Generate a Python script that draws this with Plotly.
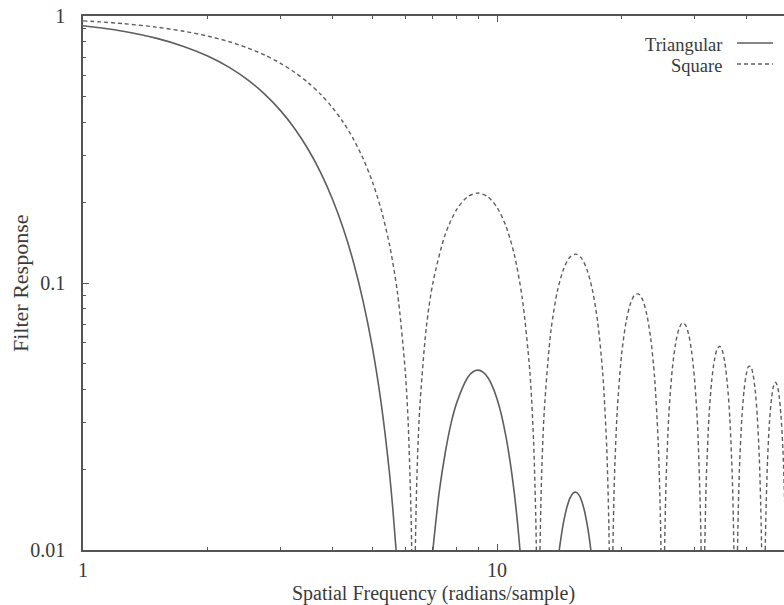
import plotly.graph_objects as go

# ---- data (None separates lobes clipped at the 0.01 floor) ----
tri_freq = [1.0, 1.1, 1.25, 1.5, 1.75, 2.0, 2.25, 2.5, 2.75, 3.0, 3.25, 3.5, 3.75, 4.0, 4.25, 4.5,
            4.75, 5.0, 5.25, 5.5, 5.6, 5.704, None,
            6.998, 7.25, 7.5, 7.75, 8.0, 8.5, 8.75, 9.0, 9.25, 9.5, 9.75, 10.0, 10.25, 10.5, 10.75,
            11.0, 11.2, 11.359, None,
            14.134, 14.25, 14.5, 14.75, 15.0, 15.25, 15.5, 15.75, 16.0, 16.25, 16.5, 16.7, 16.846]
tri_resp = [0.9195, 0.9033, 0.8765, 0.8261, 0.7693, 0.7081, 0.6434, 0.5764, 0.5090, 0.4422, 0.3776,
            0.3162, 0.2590, 0.2067, 0.1602, 0.1196, 0.0852, 0.0573, 0.0354, 0.0193, 0.0143, 0.0100, None,
            0.0100, 0.0165, 0.02323, 0.0300, 0.0358, 0.04435, 0.04653, 0.04718, 0.04638, 0.04427,
            0.04094, 0.03679, 0.03198, 0.02676, 0.02149, 0.01646, 0.01271, 0.0100, None,
            0.0100, 0.01096, 0.01288, 0.01448, 0.01565, 0.01631, 0.01646, 0.01612, 0.0153, 0.01406,
            0.0125, 0.0111, 0.0100]

sq_freq = [1.0, 1.1, 1.25, 1.5, 1.75, 2.0, 2.25, 2.5, 2.75, 3.0, 3.25, 3.5, 3.75, 4.0, 4.25, 4.5,
           4.75, 5.0, 5.25, 5.5, 5.75, 6.0, 6.1, 6.2, 6.221, None,
           6.347, 6.4, 6.5, 6.75, 7.0, 7.5, 8.0, 8.5, 9.0, 9.5, 10.0, 10.5, 11.0, 11.5, 12.0, 12.25,
           12.4, 12.442, None,
           12.693, 12.8, 13.0, 13.5, 14.0, 14.5, 15.0, 15.5, 16.0, 16.5, 17.0, 17.5, 18.0, 18.4,
           18.6, 18.663, None,
           19.04, 19.2, 19.5, 20.0, 20.5, 21.0, 21.5, 22.0, 22.5, 23.0, 23.5, 24.0, 24.5, 24.8,
           24.884, None,
           25.387, 25.6, 26.0, 26.5, 27.0, 27.5, 28.0, 28.5, 29.0, 29.5, 30.0, 30.5, 31.0, 31.104, None,
           31.733, 32.0, 32.5, 33.0, 33.5, 34.0, 34.5, 35.0, 35.5, 36.0, 36.5, 37.0, 37.2, 37.326, None,
           38.08, 38.25, 38.5, 39.0, 39.5, 40.0, 40.5, 41.0, 41.5, 42.0, 42.5, 43.0, 43.4, 43.547, None,
           44.43, 44.6, 45.0, 45.5, 46.0, 46.5, 47.0, 47.5, 48.0, 48.5, 49.0, 49.5, 49.77]
sq_resp = [0.9589, 0.9504, 0.9362, 0.9089, 0.8771, 0.8415, 0.8021, 0.7592, 0.7134, 0.665, 0.6145,
           0.5623, 0.5089, 0.4546, 0.4003, 0.3458, 0.2919, 0.2394, 0.1882, 0.1388, 0.0916, 0.047,
           0.030, 0.0134, 0.0100, None,
           0.0100, 0.01825, 0.03323, 0.0686, 0.1002, 0.1524, 0.1892, 0.2106, 0.2172, 0.2104, 0.1918,
           0.1636, 0.1283, 0.0881, 0.0466, 0.02575, 0.0134, 0.0100, None,
           0.0100, 0.0182, 0.0331, 0.0667, 0.0939, 0.1135, 0.1251, 0.1283, 0.1237, 0.1118, 0.0939,
           0.0714, 0.0458, 0.02426, 0.01339, 0.0100, None,
           0.0100, 0.01816, 0.03277, 0.0544, 0.0717, 0.0838, 0.0902, 0.0909, 0.086, 0.0761, 0.062,
           0.0447, 0.02538, 0.01337, 0.0100, None,
           0.0100, 0.01812, 0.03232, 0.04768, 0.0595, 0.0673, 0.0708, 0.0697, 0.0645, 0.0554, 0.0434,
           0.029, 0.01332, 0.0100, None,
           0.0100, 0.01799, 0.03174, 0.04313, 0.05158, 0.05655, 0.05795, 0.05575, 0.0502, 0.0417,
           0.0309, 0.01852, 0.0133, 0.0100, None,
           0.0100, 0.01422, 0.02025, 0.03105, 0.03968, 0.04565, 0.04867, 0.04863, 0.0456, 0.03984,
           0.03179, 0.02193, 0.01323, 0.0100, None,
           0.0100, 0.01363, 0.02165, 0.03024, 0.03681, 0.04094, 0.04247, 0.04136, 0.03773, 0.03188,
           0.02413, 0.01509, 0.0100]

x_tick_vals = [1, 10]
x_tick_text = ["1", "10"]
x_minor_vals = [2, 3, 4, 5, 6, 7, 8, 9, 20, 30, 40]
y_tick_vals = [0.01, 0.1, 1]
y_tick_text = ["0.01", "0.1", "1"]
y_minor_vals = [0.02, 0.03, 0.04, 0.05, 0.06, 0.07, 0.08, 0.09,
                0.2, 0.3, 0.4, 0.5, 0.6, 0.7, 0.8, 0.9]
legend_names = ["Triangular", "Square"]
x_title = "Spatial Frequency (radians/sample)"
y_title = "Filter Response"

LINE = "#5e5e5e"
AXIS = "#555555"
TEXT = "#3a3a3a"
FONT = "Liberation Serif, Times New Roman, serif"
FS = 20

# plot-area geometry in pixels (used only to place the hand-made legend / y title)
L, R, T, B = 83, 784, 16, 550


def px_x(p):
    return (p - L) / (R - L)


def px_y(p):
    return 1 - (p - T) / (B - T)


fig = go.Figure()
fig.add_trace(go.Scatter(x=tri_freq, y=tri_resp, mode="lines", name=legend_names[0],
                         line=dict(color=LINE, width=1.6, shape="spline", smoothing=0.8),
                         connectgaps=False, showlegend=False))
fig.add_trace(go.Scatter(x=sq_freq, y=sq_resp, mode="lines", name=legend_names[1],
                         line=dict(color=LINE, width=1.4, dash="4px,3px", shape="spline", smoothing=0.8),
                         connectgaps=False, showlegend=False))

# manual legend (text right-aligned, sample to its right)
for i, (name, dash) in enumerate(zip(legend_names, ["solid", "4px,3px"])):
    yline = px_y(43 + 21 * i)
    fig.add_annotation(xref="paper", yref="paper", x=px_x(724), y=px_y(45 + 21 * i),
                       text=name, showarrow=False, xanchor="right", yanchor="middle",
                       font=dict(family=FONT, size=18.5, color=TEXT))
    fig.add_shape(type="line", xref="paper", yref="paper",
                  x0=px_x(737), x1=px_x(773), y0=yline, y1=yline,
                  line=dict(color=LINE, width=1.4, dash=dash))

# y-axis title placed as a rotated annotation
fig.add_annotation(xref="paper", yref="paper", x=px_x(20), y=px_y(283),
                   text=y_title, textangle=-90, showarrow=False,
                   xanchor="center", yanchor="middle",
                   font=dict(family=FONT, size=22, color=TEXT))

fig.update_xaxes(type="log", range=[0, 1.693],
                 tickmode="array", tickvals=x_tick_vals, ticktext=x_tick_text,
                 ticks="inside", ticklen=6, tickcolor=AXIS, tickwidth=1,
                 minor=dict(tickmode="array", tickvals=x_minor_vals, ticks="inside",
                            ticklen=3, tickcolor=AXIS, showgrid=False),
                 showline=True, linecolor=AXIS, linewidth=1.6, mirror="allticks",
                 showgrid=False, zeroline=False, ticklabelstandoff=1,
                 tickfont=dict(family=FONT, size=FS, color=TEXT),
                 title=dict(text=x_title, standoff=7,
                            font=dict(family=FONT, size=FS, color=TEXT)))
fig.update_yaxes(type="log", range=[-2, 0],
                 tickmode="array", tickvals=y_tick_vals, ticktext=y_tick_text,
                 ticks="inside", ticklen=6, tickcolor=AXIS, tickwidth=1,
                 minor=dict(tickmode="array", tickvals=y_minor_vals, ticks="inside",
                            ticklen=3, tickcolor=AXIS, showgrid=False),
                 showline=True, linecolor=AXIS, linewidth=1.6,
                 showgrid=False, zeroline=False, ticklabelstandoff=12,
                 tickfont=dict(family=FONT, size=FS, color=TEXT))

fig.update_layout(width=784, height=605,
                  margin=dict(l=L, r=0, t=T, b=605 - B, pad=0),
                  paper_bgcolor="white", plot_bgcolor="white",
                  showlegend=False)

fig.write_html("out.html")
